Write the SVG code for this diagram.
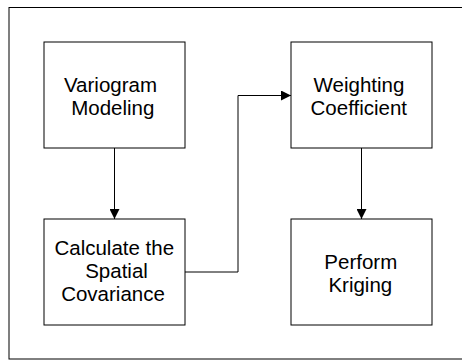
<svg xmlns="http://www.w3.org/2000/svg" width="462" height="361" viewBox="0 0 462 361">
<style>
.frame{fill:none;stroke:#000;stroke-width:1}
.box{fill:#fff;stroke:#000;stroke-width:1}
.lbl{font-family:"Liberation Sans",Arial,sans-serif;font-size:20.5px;fill:#000;text-anchor:middle}
.conn{fill:none;stroke:#000;stroke-width:1}
</style>
<defs>
<marker id="arr" viewBox="0 0 10 10" refX="10" refY="5" markerWidth="10" markerHeight="10" markerUnits="userSpaceOnUse" orient="auto">
<path d="M0,0 L10,5 L0,10 z" fill="#000"/>
</marker>
</defs>
<rect width="462" height="361" fill="#fff"/>
<rect class="frame" x="9" y="7.5" width="470" height="351.5"/>
<g id="node-variogram">
<rect class="box" x="44" y="42" width="141" height="106"/>
<text class="lbl" x="110.5" y="92">Variogram</text>
<text class="lbl" x="112.8" y="114.5">Modeling</text>
</g>
<g id="node-weighting">
<rect class="box" x="291" y="42" width="141" height="106"/>
<text class="lbl" x="359" y="92">Weighting</text>
<text class="lbl" x="358.8" y="114.5">Coefficient</text>
</g>
<g id="node-covariance">
<rect class="box" x="44" y="219" width="141" height="106"/>
<text class="lbl" x="114.3" y="255">Calculate the</text>
<text class="lbl" x="116.5" y="277.5">Spatial</text>
<text class="lbl" x="113" y="300.5">Covariance</text>
</g>
<g id="node-kriging">
<rect class="box" x="291" y="219" width="141" height="106"/>
<text class="lbl" x="360.8" y="269">Perform</text>
<text class="lbl" x="360.3" y="292">Kriging</text>
</g>
<g id="connectors">
<path class="conn" d="M114.5 148 V219" marker-end="url(#arr)"/>
<path class="conn" d="M185 272 H238 V95.5 H291" marker-end="url(#arr)"/>
<path class="conn" d="M361.5 148 V219" marker-end="url(#arr)"/>
</g>
</svg>
